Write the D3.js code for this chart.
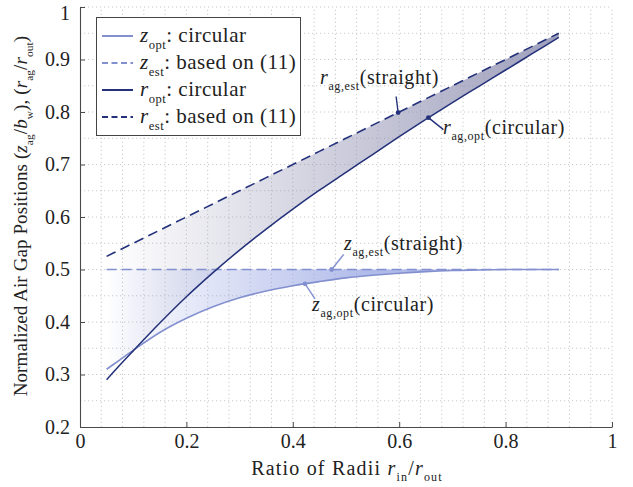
<!DOCTYPE html>
<html>
<head>
<meta charset="utf-8">
<script src="https://cdn.jsdelivr.net/npm/d3@7/dist/d3.min.js"></script>
<style>
  html, body { margin: 0; padding: 0; background: #fff; }
  svg { display: block; }
  svg text { font-family: 'Liberation Serif', 'DejaVu Serif', 'Times New Roman', Times, Georgia, serif !important; fill: #222; }
</style>
</head>
<body>
<svg id="chart" width="633" height="487"></svg>
<script>
// Ratio of radii r_in / r_out (sample positions along each curve)
const ratio = [0.05, 0.075, 0.1, 0.15, 0.2, 0.25, 0.3, 0.35, 0.4, 0.45, 0.5, 0.55, 0.6, 0.65, 0.7, 0.75, 0.8, 0.85, 0.9];
// Optimal axial air-gap position, circular conductors
const zOpt = [0.310, 0.328, 0.346, 0.380, 0.407, 0.429, 0.446, 0.459, 0.469, 0.477, 0.484, 0.489, 0.493, 0.496, 0.498, 0.499, 0.500, 0.500, 0.500];
// Estimated axial position, straight approximation
const zEst = [0.5, 0.5, 0.5, 0.5, 0.5, 0.5, 0.5, 0.5, 0.5, 0.5, 0.5, 0.5, 0.5, 0.5, 0.5, 0.5, 0.5, 0.5, 0.5];
// Optimal radial air-gap position, circular conductors
const rOpt = [0.290, 0.318, 0.345, 0.398, 0.448, 0.494, 0.537, 0.577, 0.615, 0.651, 0.685, 0.719, 0.753, 0.786, 0.818, 0.849, 0.880, 0.911, 0.942];
// Estimated radial position, straight approximation
const rEst = [0.525, 0.5375, 0.55, 0.575, 0.6, 0.625, 0.65, 0.675, 0.7, 0.725, 0.75, 0.775, 0.8, 0.825, 0.85, 0.875, 0.9, 0.925, 0.95];

const xTicks = [0, 0.2, 0.4, 0.6, 0.8, 1];
const xTickLabels = ["0", "0.2", "0.4", "0.6", "0.8", "1"];
const yTicks = [0.2, 0.3, 0.4, 0.5, 0.6, 0.7, 0.8, 0.9, 1];
const yTickLabels = ["0.2", "0.3", "0.4", "0.5", "0.6", "0.7", "0.8", "0.9", "1"];

const colR = "#23307a";
const colZ = "#8390cf";
const FONT = "'Liberation Serif', 'DejaVu Serif', 'Times New Roman', serif";

const svg = d3.select("#chart");
const x = d3.scaleLinear().domain([0, 1]).range([80, 612]);
const y = d3.scaleLinear().domain([0.2, 1]).range([427, 7]);

// ---- dotted grid ----
const grid = svg.append("g").attr("stroke", "#c4c4c4").attr("stroke-width", 0.9)
  .attr("stroke-dasharray", "1.2,2.8");
grid.selectAll("line.gx").data(d3.range(0.04, 1.0001, 0.04)).join("line")
  .attr("x1", d => x(d)).attr("x2", d => x(d)).attr("y1", y(0.2)).attr("y2", y(1));
grid.selectAll("line.gy").data(d3.range(0.25, 1.0001, 0.05)).join("line")
  .attr("y1", d => y(d)).attr("y2", d => y(d)).attr("x1", x(0)).attr("x2", x(1));

// ---- gradient fills ----
const defs = svg.append("defs");
function grad(id, c, x0, x1, op) {
  const g = defs.append("linearGradient").attr("id", id)
    .attr("gradientUnits", "userSpaceOnUse")
    .attr("x1", x(x0)).attr("x2", x(x1)).attr("y1", 0).attr("y2", 0);
  g.append("stop").attr("offset", 0).attr("stop-color", c).attr("stop-opacity", 0);
  g.append("stop").attr("offset", 1).attr("stop-color", c).attr("stop-opacity", op);
}
grad("gradR", "#8d8eb0", 0.05, 0.9, 0.85);
grad("gradZ", "#8e9de0", 0.05, 0.55, 0.7);

const rows = ratio.map((r, i) => ({ r, zOpt: zOpt[i], zEst: zEst[i], rOpt: rOpt[i], rEst: rEst[i] }));
const curve = d3.curveMonotoneX;

svg.append("path").datum(rows)
  .attr("d", d3.area().curve(curve).x(d => x(d.r)).y0(d => y(d.rOpt)).y1(d => y(d.rEst)))
  .attr("fill", "url(#gradR)");
svg.append("path").datum(rows)
  .attr("d", d3.area().curve(curve).x(d => x(d.r)).y0(d => y(d.zOpt)).y1(d => y(d.zEst)))
  .attr("fill", "url(#gradZ)");

// ---- curves ----
function line(key, color, dash, w) {
  svg.append("path").datum(rows)
    .attr("d", d3.line().curve(curve).x(d => x(d.r)).y(d => y(d[key])))
    .attr("fill", "none").attr("stroke", color).attr("stroke-width", w)
    .attr("stroke-dasharray", dash);
}
line("zEst", colZ, "10,5", 1.6);
line("zOpt", colZ, null, 1.6);
line("rEst", colR, "10,5.5", 1.6);
line("rOpt", colR, null, 1.5);

// ---- axes ----
const axB = svg.append("g").attr("transform", `translate(0,${y(0.2)})`)
  .call(d3.axisBottom(x).tickValues(xTicks).tickFormat((d, i) => xTickLabels[i])
    .tickSizeInner(-5).tickSizeOuter(0).tickPadding(7));
const axL = svg.append("g").attr("transform", `translate(${x(0)},0)`)
  .call(d3.axisLeft(y).tickValues(yTicks).tickFormat((d, i) => yTickLabels[i])
    .tickSizeInner(-5).tickSizeOuter(0).tickPadding(10));
[axB, axL].forEach(a => {
  a.attr("font-family", FONT);
  a.select(".domain").attr("stroke", "#4a4a4a").attr("stroke-width", 1.1);
  a.selectAll(".tick line").attr("stroke", "#4a4a4a").attr("stroke-width", 1);
  a.selectAll(".tick text").attr("font-size", 20).attr("fill", "#222");
});
// keep the topmost label inside the canvas
axL.selectAll(".tick text").filter(d => d === 1).attr("dy", "0.6em");

// ---- rich text helper (italic symbols, lowered subscripts) ----
function rich(g, parts, size, spacing) {
  const t = g.append("text").attr("font-size", size).attr("font-family", FONT)
    .attr("letter-spacing", spacing || 0);
  let lowered = false;
  parts.forEach(p => {
    const s = t.append("tspan").text(p.t);
    if (p.i) s.attr("font-style", "italic");
    if (p.sub) {
      s.attr("font-size", size * 0.6);
      if (!lowered) { s.attr("dy", size * 0.32); lowered = true; }
    } else if (lowered) {
      s.attr("dy", -size * 0.32); lowered = false;
    }
  });
  return t;
}
// center a text (in its own frame) around the group origin, using its drawn box
function centerText(t) {
  const bb = t.node().getBBox();
  t.attr("x", -(bb.x + bb.width / 2));
}

// axis titles
centerText(rich(svg.append("g").attr("transform", "translate(347,475)"),
  [{ t: "Ratio of Radii " }, { t: "r", i: 1 }, { t: "in", sub: 1 }, { t: "/" }, { t: "r", i: 1 }, { t: "out", sub: 1 }], 20, 1.2));
centerText(rich(svg.append("g").attr("transform", "translate(27,216) rotate(-90)"),
  [{ t: "Normalized Air Gap Positions (" }, { t: "z", i: 1 }, { t: "ag", sub: 1 }, { t: "/" }, { t: "b", i: 1 }, { t: "w", sub: 1 },
   { t: "), (" }, { t: "r", i: 1 }, { t: "ag", sub: 1 }, { t: "/" }, { t: "r", i: 1 }, { t: "out", sub: 1 }, { t: ")" }], 19, 0.1));

// ---- legend ----
const legendItems = [
  { sym: "z", sub: "opt", label: ": circular", color: colZ, dash: null },
  { sym: "z", sub: "est", label: ": based on (11)", color: colZ, dash: "6,3.5" },
  { sym: "r", sub: "opt", label: ": circular", color: colR, dash: null },
  { sym: "r", sub: "est", label: ": based on (11)", color: colR, dash: "6,3.5" }
];
const lg = svg.append("g");
lg.append("rect").attr("x", 96.5).attr("y", 17.5).attr("width", 204).attr("height", 118)
  .attr("fill", "#fff").attr("stroke", "#444").attr("stroke-width", 1);
legendItems.forEach((d, i) => {
  const cy = 36 + i * 27;
  lg.append("line").attr("x1", 102).attr("x2", 133).attr("y1", cy).attr("y2", cy)
    .attr("stroke", d.color).attr("stroke-width", 2).attr("stroke-dasharray", d.dash);
  rich(lg.append("g").attr("transform", `translate(140,${cy + 6})`),
    [{ t: d.sym, i: 1 }, { t: d.sub, sub: 1 }, { t: d.label }], 21, 0.5);
});

// ---- annotations ----
function interp(series, xv) {
  const i = d3.bisector(d => d).right(ratio, xv) - 1;
  const t = (xv - ratio[i]) / (ratio[i + 1] - ratio[i]);
  return series[i] + t * (series[i + 1] - series[i]);
}
const notes = [
  { series: rEst, at: 0.598, color: colR, tip: [-2, -16], txt: [320, 84], sym: "r", sub: "ag,est", label: "(straight)" },
  { series: rOpt, at: 0.655, color: colR, tip: [15, 12], txt: [443, 134], sym: "r", sub: "ag,opt", label: "(circular)" },
  { series: zEst, at: 0.473, color: colZ, tip: [12, -15], txt: [344, 250], sym: "z", sub: "ag,est", label: "(straight)" },
  { series: zOpt, at: 0.423, color: colZ, tip: [10, 15], txt: [312, 311], sym: "z", sub: "ag,opt", label: "(circular)" }
];
notes.forEach(n => {
  const px = x(n.at), py = y(interp(n.series, n.at));
  svg.append("line").attr("x1", px).attr("y1", py).attr("x2", px + n.tip[0]).attr("y2", py + n.tip[1])
    .attr("stroke", n.color).attr("stroke-width", 1.4);
  svg.append("circle").attr("cx", px).attr("cy", py).attr("r", 2.4).attr("fill", n.color);
  rich(svg.append("g").attr("transform", `translate(${n.txt[0]},${n.txt[1]})`),
    [{ t: n.sym, i: 1 }, { t: n.sub, sub: 1 }, { t: n.label }], 20, 0.6);
});
</script>
</body>
</html>
